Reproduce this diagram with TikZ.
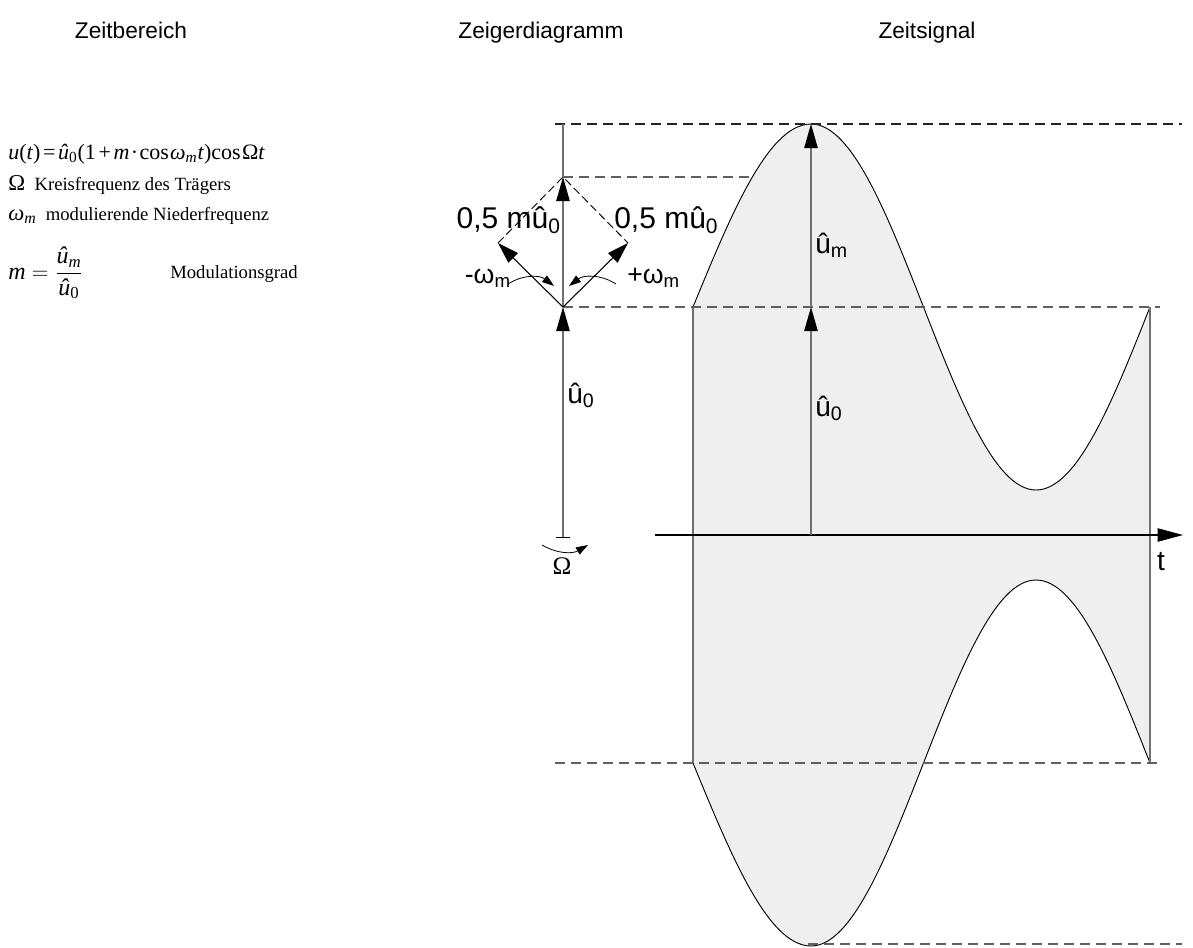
\documentclass[tikz,border=0pt]{standalone}
\usepackage{amsmath}
\usepackage{fontspec}
\setmainfont{Liberation Serif}
\setsansfont{Liberation Sans}
\usetikzlibrary{arrows.meta}
\definecolor{fillc}{HTML}{EFEFEF}
\definecolor{dashc}{HTML}{606060}
\definecolor{linec}{HTML}{707070}
\begin{document}
\begin{tikzpicture}[x=0.75pt,y=-0.75pt,
  lab/.style={font=\sffamily\fontsize{21}{25}\selectfont, inner sep=0pt},
  hlab/.style={font=\sffamily\fontsize{22.5}{26}\selectfont, inner sep=0pt},
  wlab/.style={font=\sffamily\fontsize{20}{24}\selectfont, inner sep=0pt},
  ttl/.style={font=\sffamily\fontsize{17}{20}\selectfont, inner sep=0pt, anchor=base},
  ser/.style={font=\fontsize{14}{17}\selectfont, inner sep=0pt, anchor=base west},
  dsh/.style={draw=dashc, dash pattern=on 7.5pt off 4.5pt, line width=0.8pt},
  gline/.style={draw=linec, line width=0.9pt},
  curve/.style={draw=black, line width=0.7pt},
  bigarrow/.style={-{Triangle[length=18pt,width=10pt,color=black]}},
  sidearrow/.style={-{Triangle[length=16pt,width=10pt,color=black]}},
  smallarrow/.style={-{Triangle[length=9pt,width=6pt]}}
]
\useasboundingbox (0,0) rectangle (1193,947);

% titles
\node[ttl] (t1) at (131,38) {Zeitbereich};
\node[ttl] (t2) at (541,38) {Zeigerdiagramm};
\node[ttl] (t3) at (927,38) {Zeitsignal};

% formulas
\node[ser] (f1) at (8,159) {\fontsize{16.5}{20}\selectfont\textit{u}(\textit{t})\kern2pt=\kern2pt\textit{û}\textsubscript{0}(1\kern2pt+\kern2pt\textit{m}\kern1pt·\kern1pt cos\kern1pt\textit{ω}\textsubscript{\textit{m}}\textit{t})cos\kern1pt Ω\textit{t}};
\node[ser] (f2) at (8,190) {\fontsize{17}{19}\selectfont Ω\ \,\fontsize{14}{17}\selectfont Kreisfrequenz des Trägers};
\node[ser] (f3) at (8,220) {\fontsize{17}{19}\selectfont\textit{ω}\textsubscript{\textit{m}}\ \,\fontsize{14}{17}\selectfont modulierende Niederfrequenz};
\node[ser, anchor=west] (f4) at (8,273) {\fontsize{18}{22}\selectfont $\textit{m} = \dfrac{\text{\textit{û}\textsubscript{\textit{m}}}}{\text{\textit{û}\textsubscript{0}}}$};
\node[ser] (f5) at (170,278) {Modulationsgrad};

% ---------------- time signal ----------------
\fill[fillc] plot[domain=0:1,samples=30] ({693+118*\x},{307-183*cos(90*\x-90)})
  -- plot[domain=0:1,samples=60] ({811+225*\x},{307-183*cos(180*\x)})
  -- plot[domain=0:1,samples=30] ({1036+114*\x},{307-183*cos(180+90*\x)})
  -- plot[domain=1:0,samples=30] ({1036+114*\x},{763+183*cos(180+90*\x)})
  -- plot[domain=1:0,samples=60] ({811+225*\x},{763+183*cos(180*\x)})
  -- plot[domain=1:0,samples=30] ({693+118*\x},{763+183*cos(90*\x-90)})
  -- cycle;
\draw[curve] plot[domain=0:1,samples=30] ({693+118*\x},{307-183*cos(90*\x-90)})
  -- plot[domain=0:1,samples=60] ({811+225*\x},{307-183*cos(180*\x)})
  -- plot[domain=0:1,samples=30] ({1036+114*\x},{307-183*cos(180+90*\x)});
\draw[curve] plot[domain=0:1,samples=30] ({693+118*\x},{763+183*cos(90*\x-90)})
  -- plot[domain=0:1,samples=60] ({811+225*\x},{763+183*cos(180*\x)})
  -- plot[domain=0:1,samples=30] ({1036+114*\x},{763+183*cos(180+90*\x)});

\coordinate (lt) at (693,307);
\coordinate (lb) at (693,763);
\coordinate (rt) at (1150,307);
\coordinate (rb) at (1150,763);
\draw[gline] (lt) -- (lb);
\draw[gline] (rt) -- (rb);

% dashed helper lines
\coordinate (d1a) at (555,124);  \coordinate (d1b) at (1182,124);
\coordinate (d2a) at (563,177);  \coordinate (d2b) at (752,177);
\coordinate (d3a) at (563,307);  \coordinate (d3b) at (1160,307);
\coordinate (d4a) at (555,763);  \coordinate (d4b) at (1160,763);
\coordinate (d5a) at (808,944);  \coordinate (d5b) at (1182,944);
\draw[dsh, draw=black!85] (d1a) -- (d1b);
\draw[dsh] (d2a) -- (d2b);
\draw[dsh] (d3a) -- (d3b);
\draw[dsh] (d4a) -- (d4b);
\draw[dsh] (d5a) -- (d5b);

% time axis
\coordinate (axs) at (655,535);
\coordinate (axe) at (1183,535);
\draw[line width=0.8pt, -{Triangle[length=19pt,width=10pt]}] (axs) -- (axe);
\node[lab] (tl) at (1161,562) {t};

% amplitude arrows in time signal
\coordinate (m0) at (811,535);
\coordinate (m1) at (811,307);
\coordinate (m2) at (811,124);
\draw[gline, bigarrow] (m0) -- (m1);
\draw[gline, bigarrow] (m1) -- (m2);
\node[lab, anchor=west] (um) at (815,245) {û\textsubscript{m}};
\node[lab, anchor=west] (u0b) at (815,408) {û\textsubscript{0}};

% ---------------- phasor diagram ----------------
\coordinate (ptop) at (563,124);
\coordinate (p1) at (563,177);
\coordinate (p0) at (563,307);
\coordinate (pb) at (563,537);
\coordinate (pl) at (498,243);
\coordinate (pr) at (628,243);
\draw[gline] (ptop) -- (p1);
\draw[gline, bigarrow] (pb) -- (p0);
\draw[gline, bigarrow] (p0) -- (p1);
\draw[line width=0.7pt] (556,537) -- (570,537);
\draw[line width=0.8pt, sidearrow] (p0) -- (pl);
\draw[line width=0.8pt, sidearrow] (p0) -- (pr);
\draw[line width=0.7pt, dash pattern=on 6pt off 3pt] (pl) -- (p1) -- (pr);
\node[lab, anchor=west] (u0a) at (567,395) {û\textsubscript{0}};
\node[hlab, anchor=east] (hl) at (561,220) {0,5 mû\textsubscript{0}};
\node[hlab, anchor=west] (hr) at (614,220) {0,5 mû\textsubscript{0}};
\node[wlab, anchor=east] (wl) at (511,278) {-ω\textsubscript{m}};
\node[wlab, anchor=west] (wr) at (627,278) {+ω\textsubscript{m}};
\coordinate (al0) at (508,284);
\coordinate (al1) at (554,286);
\coordinate (ar0) at (616,284);
\coordinate (ar1) at (569,286);
\draw[line width=0.6pt, smallarrow] (al0) to[bend left=35] (al1);
\draw[line width=0.6pt, smallarrow] (ar0) to[bend right=35] (ar1);
\coordinate (o0) at (542,545);
\coordinate (o1) at (588,545);
\draw[line width=0.6pt, smallarrow] (o0) to[bend right=30] (o1);
\node[font=\fontsize{19}{22}\selectfont, inner sep=0pt] (om) at (562,566) {Ω};
\end{tikzpicture}
\end{document}
